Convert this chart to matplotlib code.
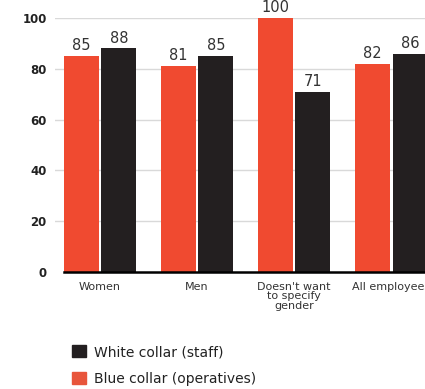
import numpy as np
import matplotlib.pyplot as plt
from matplotlib.patches import Patch

# Survey scores by gender and employee type
categories = ["Women", "Men", "Doesn't want\nto specify\ngender", "All employees"]
blue_collar = [85, 81, 100, 82]
white_collar = [88, 85, 71, 86]
y_ticks = [0, 20, 40, 60, 80, 100]

red = '#f04a30'
black = '#231f20'
text_col = '#333333'

fig = plt.figure(figsize=(4.25, 3.89), dpi=100)
ax = fig.add_axes([55 / 425, (389 - 272) / 389, (425 - 55) / 425, 254 / 389])

x = np.arange(len(categories))
width = 0.36
offset = 0.195

bars_blue = ax.bar(x - offset, blue_collar, width, color=red, zorder=2)
bars_white = ax.bar(x + offset, white_collar, width, color=black, zorder=2)

# value labels above each bar
for bars in (bars_blue, bars_white):
    for b in bars:
        ax.annotate(f'{b.get_height():.0f}', (b.get_x() + b.get_width() / 2, b.get_height()),
                    xytext=(0, 2), textcoords='offset points', ha='center', va='bottom',
                    fontsize=10.5, color=text_col, clip_on=False)

ax.set_xlim(-0.464, 3.35)
ax.set_ylim(0, 100)
ax.set_yticks(y_ticks)
ax.set_yticklabels([str(t) for t in y_ticks], fontsize=8.5, fontweight='bold', color='#222222')
ax.set_xticks(x)
ax.set_xticklabels(categories, fontsize=8, color=text_col, linespacing=0.95)
ax.tick_params(axis='both', length=0)
ax.tick_params(axis='y', pad=6)
ax.tick_params(axis='x', pad=7)

for t in y_ticks[1:]:
    ax.axhline(t, color='#d9d9d9', lw=1, zorder=1)
ax.plot([-offset - width / 2, 3.35], [0, 0], color='black', lw=1.8, zorder=3, clip_on=False)

for s in ax.spines.values():
    s.set_visible(False)

handles = [Patch(color=black, label='White collar (staff)'),
           Patch(color='#e8553b', label='Blue collar (operatives)')]
leg = fig.legend(handles=handles, loc='upper left', bbox_to_anchor=(72 / 425, 1 - 345 / 389),
                 frameon=False, fontsize=10, handlelength=1.0, handleheight=1.0,
                 handletextpad=0.6, labelspacing=0.9, borderpad=0, borderaxespad=0)
for t in leg.get_texts():
    t.set_color('#222222')

fig.savefig('out.png', dpi=100)
